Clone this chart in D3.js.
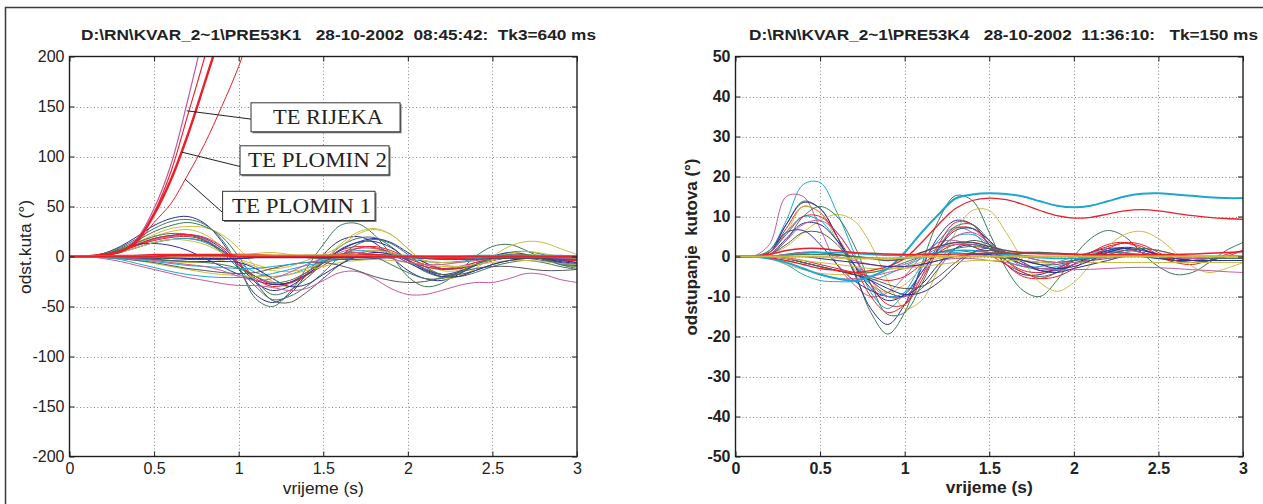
<!DOCTYPE html>
<html><head><meta charset="utf-8">
<script src="https://cdn.jsdelivr.net/npm/d3@7"></script>
<style>
html,body{margin:0;padding:0;background:#fff;}
svg{display:block;}
</style></head><body>
<svg id="chart" width="1263" height="504"></svg>
<script>
// ---------- shared ----------
const T = [0,0.1,0.2,0.3,0.4,0.5,0.6,0.7,0.8,0.9,1.0,1.1,1.2,1.3,1.4,1.5,1.6,1.7,1.8,1.9,2.0,2.1,2.2,2.3,2.4,2.5,2.6,2.7,2.8,2.9,3.0];
const xTicks = [0,0.5,1,1.5,2,2.5,3];
const xTickLabels = ["0","0.5","1","1.5","2","2.5","3"];
const leftYTicks = [200,150,100,50,0,-50,-100,-150,-200];
const rightYTicks = [50,40,30,20,10,0,-10,-20,-30,-40,-50];
const leftTitle = "D:\\RN\\KVAR_2~1\\PRE53K1   28-10-2002  08:45:42:  Tk3=640 ms";
const rightTitle = "D:\\RN\\KVAR_2~1\\PRE53K4   28-10-2002  11:36:10:   Tk=150 ms";
const leftYLabel = "odst.kuta (°)";
const rightYLabel = "odstupanje  kutova (°)";
const xLabel = "vrijeme (s)";

const palette = {b:"#2c2c9c", g:"#3b7a58", r:"#e8202a", c:"#1fa6cf", m:"#c25a9c", y:"#cbbb45", k:"#565656"};
const SANS = "'Liberation Sans',Arial,Helvetica,sans-serif";
const SERIF = "'Liberation Serif','Times New Roman',Times,serif";

// ---------- left panel series (deg) ----------
const L_rijeka  = [0,0,2,5,18,48,92,157,228,300];
const L_redA    = [0,0,2,5,17,44,85,142,200,265];
const L_plomin2 = [0,0,2,5,16,42,77,122,174,228,290];
const L_plomin1 = [0,0,1,4,14,34,53,82,113,150,190,240,300];

const L_navyA  = [0,0,3,10,20,31,38,40,33,15,-12,-38,-46,-38,-18,2,16,20,14,0,-14,-22,-24,-18,-8,0,4,2,-3,-7,-9];
const L_greenA = [0,0,3,9,18,28,35,37,32,17,-10,-42,-50,-36,-12,12,31,33,22,2,-20,-30,-27,-15,0,10,12,6,-2,-8,-10];
const L_yellowA= [0,0,2,7,14,22,28,30,29,22,8,-10,-25,-30,-22,-5,12,24,28,22,8,-8,-22,-20,-12,0,10,15,14,8,2];
const L_greenB = [0,0,2,8,16,25,31,34,30,20,0,-24,-38,-34,-22,-6,10,18,19,10,-4,-15,-20,-17,-9,-2,4,5,2,-3,-6];
const L_yellowB= [0,0,2,6,13,20,25,27,22,10,-2,-8,-12,-10,-4,2,10,22,27,22,8,-6,-14,-14,-8,-2,3,5,3,0,-2];
const L_navyB  = [0,0,2,6,12,18,21,22,18,8,-8,-26,-34,-30,-19,-6,7,14,15,9,-3,-13,-18,-15,-9,-4,0,1,-2,-6,-8];
const L_magA   = [0,0,1,5,11,17,20,21,17,6,-8,-20,-27,-26,-18,-6,4,8,8,4,-4,-10,-12,-10,-6,-2,0,0,-2,-3,-4];
const L_redC   = [0,0,2,5,11,16,19,20,16,6,-8,-20,-28,-26,-16,-4,6,10,9,4,-4,-10,-13,-11,-6,-2,1,1,-1,-3,-4];
const L_grayA  = [0,0,1,4,9,14,17,18,15,6,-6,-26,-44,-46,-36,-22,-8,2,6,4,-4,-12,-18,-18,-14,-8,-4,-2,-4,-7,-9];
const L_cyanA  = [0,0,1,4,9,14,17,18,14,5,-6,-16,-20,-18,-12,-4,2,6,5,2,-2,-5,-6,-5,-3,-1,0,0,-1,-2,-2];
const L_navyC  = [0,0,1,6,12,13,11,6,-2,-10,-18,-24,-28,-26,-18,-6,6,14,18,14,4,-6,-12,-12,-8,-4,-1,0,-2,-5,-7];
const L_greenC = [0,0,2,7,14,20,23,22,16,4,-12,-30,-43,-40,-30,-16,0,12,17,13,2,-10,-18,-20,-16,-10,-6,-4,-6,-10,-13];
const L_yellowC= [0,0,1,4,9,14,17,16,12,4,-4,-10,-14,-15,-12,-6,0,4,6,4,0,-4,-6,-6,-4,-2,0,1,0,-2,-3];
const L_redD   = [0,0,2,6,12,18,21,22,19,10,-6,-22,-30,-27,-19,-9,1,8,10,6,-2,-8,-12,-12,-8,-4,-1,0,-1,-3,-4];
const L_cyanB  = [0,0,-1,-3,-7,-11,-15,-18,-20,-21,-21,-20,-17,-13,-9,-6,-3,-1,0,0,-1,-2,-3,-3,-2,-1,0,0,-1,-1,-2];
const L_magB   = [0,0,-2,-5,-9,-13,-17,-21,-24,-27,-29,-29,-31,-34,-32,-24,-16,-15,-22,-32,-38,-38,-34,-29,-26,-26,-22,-17,-18,-23,-26];
const L_yellowD= [0,0,-1,-2,-4,-7,-10,-13,-16,-18,-19,-20,-20,-18,-14,-10,-6,-4,-3,-4,-6,-8,-10,-10,-8,-6,-4,-4,-5,-7,-8];
const L_grayB  = [0,0,-1,-2,-4,-6,-9,-12,-14,-16,-17,-16,-12,-8,-6,-6,-9,-14,-20,-24,-26,-25,-21,-16,-12,-10,-10,-12,-14,-14,-13];
const L_cyanC  = [0,0,-1,-2,-3,-5,-7,-9,-10,-11,-12,-12,-10,-8,-6,-4,-2,-1,0,0,0,-1,-2,-2,-1,0,0,0,0,-1,-1];
const L_yellowE= [0,0,0,-1,-2,-3,-5,-6,-6,-4,0,3,4,2,-1,-3,-2,0,2,2,0,-4,-8,-10,-8,-4,0,2,1,-1,-2];
const L_navyD  = [0,0,0,-1,-2,-3,-4,-5,-5,-5,-6,-12,-22,-30,-28,-18,-8,0,4,2,-6,-14,-20,-20,-14,-8,-4,-2,-2,-4,-6];
const L_greenD = [0,0,0,-1,-2,-3,-4,-5,-6,-8,-12,-20,-26,-24,-16,-6,2,4,0,-8,-16,-22,-22,-16,-8,-2,2,2,-2,-8,-12];
const L_magC   = [0,0,0,-1,-2,-4,-6,-8,-10,-14,-20,-24,-22,-16,-8,-2,2,4,2,-2,-6,-8,-8,-6,-4,-2,0,0,-1,-2,-3];
const L_redE   = [0,0,0,1,1,2,2,2,2,2,2,2,1,1,1,1,2,2,2,1,0,-1,-2,-2,-1,0,1,1,0,0,0];
const L_grayC  = [0,0,0,-1,-1,-2,-2,-3,-3,-3,-2,-1,0,0,-1,-2,-3,-3,-2,-1,-1,-2,-3,-3,-3,-2,-2,-2,-2,-3,-3];
const L_cyanD  = [0,0,0,0,1,1,1,1,1,1,1,0,0,0,1,1,2,2,2,1,1,0,0,0,1,1,1,1,1,1,0];
const L_yellowF= [0,0,0,0,0,0,0,0,0,0,1,1,1,1,1,1,1,1,0,0,0,0,0,0,0,0,0,0,0,0,0];
const L_navyE  = [0,0,0,0,-1,-1,-1,-2,-2,-2,-2,-1,-1,-1,-1,-1,-1,-1,-1,-1,-1,-1,-1,-1,-1,-1,-1,-1,-1,-1,-1];
const L_redF   = [0,0,0,0,0,0,1,1,1,1,0,0,0,0,0,0,0,0,0,0,0,0,0,0,0,0,0,0,0,0,0];

const leftSeries = [
  {v:L_navyA,c:"b"},{v:L_greenA,c:"g"},{v:L_yellowA,c:"y"},{v:L_greenB,c:"g"},{v:L_yellowB,c:"y"},
  {v:L_navyB,c:"b"},{v:L_magA,c:"m"},{v:L_redC,c:"r"},{v:L_grayA,c:"k"},{v:L_cyanA,c:"c"},
  {v:L_navyC,c:"b"},{v:L_greenC,c:"g"},{v:L_yellowC,c:"y"},{v:L_redD,c:"r"},{v:L_cyanB,c:"c"},
  {v:L_magB,c:"m"},{v:L_yellowD,c:"y"},{v:L_grayB,c:"k"},{v:L_cyanC,c:"c"},{v:L_yellowE,c:"y"},
  {v:L_navyD,c:"b"},{v:L_greenD,c:"g"},{v:L_magC,c:"m"},
  {v:L_rijeka,c:"m",w:1.2},{v:L_redA,c:"r",w:1.1},{v:L_plomin2,c:"r",w:2.4},{v:L_plomin1,c:"r",w:1},
  {v:L_grayC,c:"k"},{v:L_cyanD,c:"c",w:1.5},{v:L_navyE,c:"b",w:1.5},{v:L_redE,c:"r",w:1.5},
  {v:L_yellowF,c:"y",w:2},{v:L_redF,c:"r",w:2}
];

// annotations (data coordinates of left panel)
const annLabels = ["TE RIJEKA","TE PLOMIN 2","TE PLOMIN 1"];
const annAnchorT = [0.693,0.663,0.683];
const annAnchorV = [145.7,104.4,77.4];
const annBoxT0 = [1.073,1.008,0.905];
const annBoxT1 = [1.954,1.889,1.806];
const annBoxVTop = [153.7,110.7,65.2];
const annBoxVBot = [124.7,81.7,36.0];
const annTextT0 = [1.203,1.055,0.961];
const annTextT1 = [1.853,1.877,1.782];
const annTextV = [132.7,89.7,43.7];
const annJoinV = [137.4,90.0,44.0];

// ---------- right panel series (deg) ----------
const R_cyanBig = [0,0,1.5,9,18,18.5,11,1,-9,-13,-9,-2,4,7.3,6,2,-1,-2.5,-2.5,-1.5,0,1,1.2,0.8,0,-0.5,-0.5,0,0,0,0];
const R_mag     = [0,0,3,15,15,7,-2,-7,-10,-9,-5,0,3.5,4,2.5,1,0,-1,-1.5,-1.5,-1,-0.5,0,0,0,0,0,0,0,0,0];
const R_greenA  = [0,0,1.5,8,13.8,12,5,-3.5,-14,-19.4,-14,-2,9,15.2,14,6,-3,-8.5,-10,-6,0,4.5,6.5,5,1,-2.5,-4.5,-4,-1.5,1.5,3.5];
const R_navyA   = [0,0,1,8,13.5,12,5,-4,-13,-17,-12,-3,5,9,8,3,-2,-4.5,-4.5,-3,-1,1,2,2,1,0,-1,-1,-1,0,0];
const R_redA    = [0,0,1,7,12.5,11,5,-2,-10,-14,-12,-5,3,8.5,8,3,-2,-5,-5.5,-4,-1,1,3,3.5,2,0,-1.5,-2,-1,0,0];
const R_yellowA = [0,0,0.5,2.5,6,9,10.5,9,3,-6,-13,-11,-3,6,11.5,11.5,6,-1,-6.5,-8.7,-6.5,-2,2.5,5.5,6.3,4.5,1,-2.5,-4,-3,-1.5];
const R_yellowB = [0,0,1,6,12.5,11,4,-3,-7,-9,-7,-3,1,3,3,2,1,0,0,0,0,0,0,0,0,0,0,0,0,0,0];
const R_grayA   = [0,0,0.5,3,6,6,3,-2,-6,-9,-10,-8,-3,2,4,3,1,-1,-2,-2,-1,0,1,1,0,0,0,-1,-1,-1,-1];
const R_navyB   = [0,0,1,6,6.5,3,-2,-6,-8.5,-10,-9.8,-7,-2,2,3,2,0,-2,-3,-3,-2,0,1,2,1,0,-1,-1,-1,-1,-1];
const R_greenB  = [0,0,0.5,4,10,12.5,10,3,-7,-14.5,-14,-7,2,7.5,8,4,-1,-4,-5,-4,-2,0,1.5,2,1,0,-1,-1,-0.5,0,0];
const R_cyanB   = [0,0,1,6,10,9,4,-2,-7,-10,-9,-4,1.5,5,5.5,3,0,-2.5,-3,-2.5,-1,0.5,1.5,1,0.5,0,0,0,0,0,0];
const R_redB    = [0,0,1,5.5,10,10,6,0,-7,-12,-12,-6,2,7,7,3,-1,-3.5,-4,-3,-1,1,2.5,3.3,2.5,0.5,-1,-1.5,-1,0.5,1.5];
const R_navyC   = [0,0,0.5,4.5,8.3,8,4,-2,-8,-11,-9.5,-4,2,6.5,7,4,0,-2,-3.5,-3.5,-2,0,1.5,2.3,1.8,0.5,-0.5,-1,-1,-1,-1];
const R_magB    = [0,0,0.5,4,8,9,6,0,-6,-10,-10,-5,1,5,6,3.5,0.5,-2,-3,-3,-2,-0.5,1,1.5,1,0,-0.5,-0.5,-0.5,-0.5,-0.5];
const R_cyanN   = [0,0,-0.5,-2,-4.5,-6,-6.3,-6.3,-6,-4.5,-2.5,-0.5,1,1,0.5,0,0,0,0,0,0,0,0,0,0,0,0,0,0,0,0];
const R_magN    = [0,0,-0.5,-1.5,-3,-4.5,-5.5,-5.5,-5,-4,-3,-2,-1,-0.5,-0.5,-1,-1.5,-2.5,-3,-3.3,-3.3,-3.2,-3,-2.8,-2.7,-2.8,-3,-3.3,-3.5,-3.8,-4];
const R_yellowN = [0,0,-0.5,-2,-3.3,-4.2,-4.5,-4.5,-4,-3.3,-2.5,-1.5,-0.5,0,0.3,0.3,0.2,0,0,0,0,0,0,0,0,0,0,0,0,0,0];
const R_grayN   = [0,0,0,-0.5,-1.5,-2.5,-3.5,-4.5,-5.5,-7,-8,-7.5,-5,-1.5,1,1.5,1,0,-1,-1.5,-1.5,-1,-0.5,0,0,0,0,0,0,0,0];
const R_navyN   = [0,0,0,-0.5,-1.5,-2.5,-3.5,-4.5,-6,-8,-9.5,-9,-6.5,-2.5,1,2,0.5,-1.5,-3.5,-4,-3,-2,-1,0,0,-0.5,-1,-1,-1,-1,-1];
const R_redN    = [0,0,0,-0.3,-1,-2,-3,-4,-5,-6,-5,-2,1,3,2.5,0.5,-2,-4,-5.5,-5,-3,0,2,3.5,3,1,-1,-1.5,-1,0,1.5];
const R_greenN  = [0,0,0,-0.5,-1.5,-2.5,-3.5,-4,-4,-3,-1.5,0,1,1.5,1,0,-0.5,-1,-1.5,-1.5,-1,-0.5,0,0,0,0,0,0,0,0,0];
const R_yellowN2= [0,0,0,-0.5,-1,-1.5,-2,-2.5,-3,-3,-3,-2.5,-2,-1.5,-1,-1,-1,-1,-1.5,-1.5,-1.5,-1.5,-1.5,-1.5,-1.5,-1.5,-1.5,-1.5,-1.5,-1.5,-1.5];
const R_cyanP   = [0,0,-0.5,-1.5,-3,-4.5,-5.5,-6,-5,-3,1,6,10.5,14.5,15.5,15.8,15.6,15,13.8,12.7,12.3,12.7,13.8,15,15.7,15.8,15.5,15.2,14.8,14.6,14.6];
const R_redP    = [0,0,-0.3,-1,-2,-3,-3.5,-4,-3.5,-2.5,-0.5,3.5,8,12,14,14.6,14.2,13,11.5,10.2,9.6,9.8,10.6,11.4,11.7,11.4,10.8,10.2,9.8,9.5,9.3];
const R_redF    = [0,0,0.5,1.5,2,2,1.5,1,0.8,0.6,0.5,0.5,0.5,0.6,0.7,0.8,0.8,0.8,0.7,0.6,0.5,0.5,0.5,0.5,0.5,0.5,0.5,0.6,0.8,1,1.2];
const R_grayF   = [0,0,0,0.5,1,1,0.5,0,-0.5,-1,-0.5,1,2.5,3.5,3.5,2.5,1.5,1,1,0.8,0.6,0.4,0.3,0.2,0.2,0.2,0.1,0,0,0,0];
const R_magF    = [0,0,0,0.5,1,1,0,-1,-2,-2.5,-2,0,2,3,3,2,1,0,-1,-1.5,-1.5,-1,0,1,2,1.5,0.5,-0.5,-1,-1,-1];
const R_navyF   = [0,0,0,0,0,-0.5,-1,-1.5,-2,-2.5,-2.5,-2,-1,0,0.5,0.5,0,-1,-2,-3,-2.5,-1,1,2,1.5,0.5,-0.5,-1,-1,-1,-1];
const R_cyanF   = [0,0,0,0.3,0.8,1,1,0.8,0.5,0.3,0.3,0.5,1,1.5,1.5,1,0.5,0,-0.3,-0.5,-0.5,-0.3,0,0.3,0.3,0.2,0,0,0,0,0];
const R_greenF  = [0,0,0,0.3,0.5,0.5,0.3,0,-0.3,-0.5,-0.5,0,1,2,2.5,2,1,0.3,0,0,0,0,0.5,1.5,2,1.5,0.5,0,-0.5,-0.5,-0.5];
const R_oliveF  = [0,0,0,0,0,0,-0.3,-0.5,-0.5,-0.5,-0.3,0,0,0,0,0,0,0,0,0,0,0,0,0,0,0,0,0,0,0,0];

const rightSeries = [
  {v:R_cyanBig,c:"c"},{v:R_mag,c:"m"},{v:R_greenA,c:"g"},{v:R_navyA,c:"b"},{v:R_redA,c:"r"},
  {v:R_yellowA,c:"y"},{v:R_yellowB,c:"y"},{v:R_grayA,c:"k"},{v:R_navyB,c:"b"},{v:R_greenB,c:"g"},
  {v:R_cyanB,c:"c"},{v:R_redB,c:"r"},{v:R_navyC,c:"b"},{v:R_magB,c:"m"},
  {v:R_cyanN,c:"c"},{v:R_magN,c:"m"},{v:R_yellowN,c:"y"},{v:R_grayN,c:"k"},{v:R_navyN,c:"b"},
  {v:R_redN,c:"r"},{v:R_greenN,c:"g"},{v:R_yellowN2,c:"y"},
  {v:R_cyanP,c:"c",w:2},{v:R_redP,c:"r",w:1.3},
  {v:R_grayF,c:"k",w:1.5},{v:R_magF,c:"m"},{v:R_navyF,c:"b"},{v:R_cyanF,c:"c",w:1.5},
  {v:R_greenF,c:"g"},{v:R_redF,c:"r",w:1.5},{v:R_oliveF,c:"y",w:2}
];

// ---------- drawing ----------
const svg = d3.select("#chart");
svg.append("rect").attr("width",1263).attr("height",504).attr("fill","#fff");
svg.append("rect").attr("x",5.5).attr("y",7.5).attr("width",1400).attr("height",1000)
   .attr("fill","none").attr("stroke","#3a3a3a").attr("stroke-width",1.5);

function panel(cfg){
  const g = svg.append("g");
  const x = d3.scaleLinear().domain([0,3]).range([cfg.x0,cfg.x1]);
  const y = d3.scaleLinear().domain(cfg.yDomain).range([cfg.yb,cfg.yt]);
  const id = "clip"+cfg.id;
  svg.append("clipPath").attr("id",id).append("rect")
     .attr("x",cfg.x0).attr("y",cfg.yt).attr("width",cfg.x1-cfg.x0).attr("height",cfg.yb-cfg.yt);
  // grid
  const grid = g.append("g").attr("stroke","#8a8a8a").attr("stroke-width",1).attr("stroke-dasharray","1,2.5");
  xTicks.slice(1,-1).forEach(t=>grid.append("line").attr("x1",Math.round(x(t))+0.5).attr("x2",Math.round(x(t))+0.5).attr("y1",cfg.yt).attr("y2",cfg.yb));
  cfg.yTicks.slice(1,-1).forEach(v=>grid.append("line").attr("y1",Math.round(y(v))+0.5).attr("y2",Math.round(y(v))+0.5).attr("x1",cfg.x0).attr("x2",cfg.x1));
  // series
  const line = d3.line().x((d,i)=>x(T[i])).y(d=>y(d)).curve(d3.curveCatmullRom.alpha(0.5));
  const lg = g.append("g").attr("clip-path","url(#"+id+")").attr("fill","none");
  cfg.series.forEach(s=>{
    lg.append("path").attr("d",line(s.v)).attr("stroke",palette[s.c])
      .attr("stroke-width",s.w||1).attr("stroke-linejoin","round");
  });
  // box
  g.append("rect").attr("x",cfg.x0).attr("y",cfg.yt).attr("width",cfg.x1-cfg.x0).attr("height",cfg.yb-cfg.yt)
   .attr("fill","none").attr("stroke","#1e1e1e").attr("stroke-width",1.4);
  // axes
  const fw = cfg.bold ? "bold" : "normal";
  const style = a=>{ a.select(".domain").remove(); a.selectAll("line").attr("stroke","#1e1e1e");
    a.selectAll("text").style("font-size",cfg.tickFont+"px").style("font-weight",fw).style("fill","#222")
     .style("font-family",SANS); };
  g.append("g").attr("transform",`translate(0,${cfg.yb})`)
   .call(d3.axisBottom(x).tickValues(xTicks).tickFormat((d,i)=>xTickLabels[i]).tickSizeInner(-5).tickSizeOuter(0).tickPadding(cfg.xPad)).call(style);
  g.append("g").attr("transform",`translate(0,${cfg.yt})`)
   .call(d3.axisTop(x).tickValues(xTicks).tickFormat("").tickSizeInner(-5).tickSizeOuter(0)).call(style);
  g.append("g").attr("transform",`translate(${cfg.x0},0)`)
   .call(d3.axisLeft(y).tickValues(cfg.yTicks).tickFormat(d=>String(d)).tickSizeInner(-5).tickSizeOuter(0).tickPadding(cfg.yPad)).call(style);
  g.append("g").attr("transform",`translate(${cfg.x1},0)`)
   .call(d3.axisRight(y).tickValues(cfg.yTicks).tickFormat("").tickSizeInner(-5).tickSizeOuter(0)).call(style);
  // title
  g.append("text").attr("x",cfg.titleX).attr("y",40)
   .style("font-family",SANS).style("font-size","15px").style("font-weight","bold").style("fill","#222")
   .attr("xml:space","preserve").style("white-space","pre")
   .attr("textLength",cfg.titleW).attr("lengthAdjust","spacingAndGlyphs").text(cfg.title);
  // x label
  g.append("text").attr("x",(cfg.x0+cfg.x1)/2).attr("y",cfg.xLabelY).attr("text-anchor","middle")
   .style("font-family",SANS).style("font-size","16px").style("font-weight",fw).style("fill","#222")
   .attr("textLength",cfg.xLabelW).attr("lengthAdjust","spacingAndGlyphs").text(xLabel);
  // y label
  g.append("text").attr("transform",`translate(${cfg.yLabelX},247) rotate(-90)`).attr("text-anchor","middle")
   .style("font-family",SANS).style("font-size","16px").style("font-weight",fw).style("fill","#222")
   .attr("xml:space","preserve").style("white-space","pre")
   .attr("textLength",cfg.yLabelW).attr("lengthAdjust","spacingAndGlyphs").text(cfg.yLabel);
  return {g,x,y};
}

const left = panel({id:"L", x0:69.5, x1:577, yt:56.5, yb:456.5, yDomain:[-200,200], yTicks:leftYTicks,
  series:leftSeries, bold:false, tickFont:16, xPad:6, yPad:5, title:leftTitle, titleX:81, titleW:515,
  xLabelY:494, xLabelW:81, yLabelX:31, yLabel:leftYLabel, yLabelW:94});
const right = panel({id:"R", x0:735.5, x1:1243, yt:56.5, yb:456.5, yDomain:[-50,50], yTicks:rightYTicks,
  series:rightSeries, bold:true, tickFont:16, xPad:6, yPad:5, title:rightTitle, titleX:749, titleW:509,
  xLabelY:493, xLabelW:87, yLabelX:697, yLabel:rightYLabel, yLabelW:177});

// annotations on left panel
const ag = left.g.append("g");
annLabels.forEach((lab,i)=>{
  const X = left.x, Y = left.y;
  ag.append("line").attr("x1",X(annAnchorT[i])).attr("y1",Y(annAnchorV[i]))
    .attr("x2",X(annBoxT0[i])).attr("y2",Y(annJoinV[i])).attr("stroke","#222").attr("stroke-width",1);
  const bx = X(annBoxT0[i]), by = Y(annBoxVTop[i]), bw = X(annBoxT1[i])-X(annBoxT0[i]), bh = Y(annBoxVBot[i])-Y(annBoxVTop[i]);
  ag.append("rect").attr("x",bx+1.5).attr("y",by+1.5).attr("width",bw).attr("height",bh).attr("fill","#777");
  ag.append("rect").attr("x",bx).attr("y",by).attr("width",bw).attr("height",bh)
    .attr("fill","#fff").attr("stroke","#333").attr("stroke-width",1);
  ag.append("text").attr("x",X(annTextT0[i])).attr("y",Y(annTextV[i]))
    .style("font-family",SERIF).style("font-size","21px").style("fill","#222")
    .attr("textLength",X(annTextT1[i])-X(annTextT0[i])).attr("lengthAdjust","spacingAndGlyphs").text(lab);
});
</script></body></html>
